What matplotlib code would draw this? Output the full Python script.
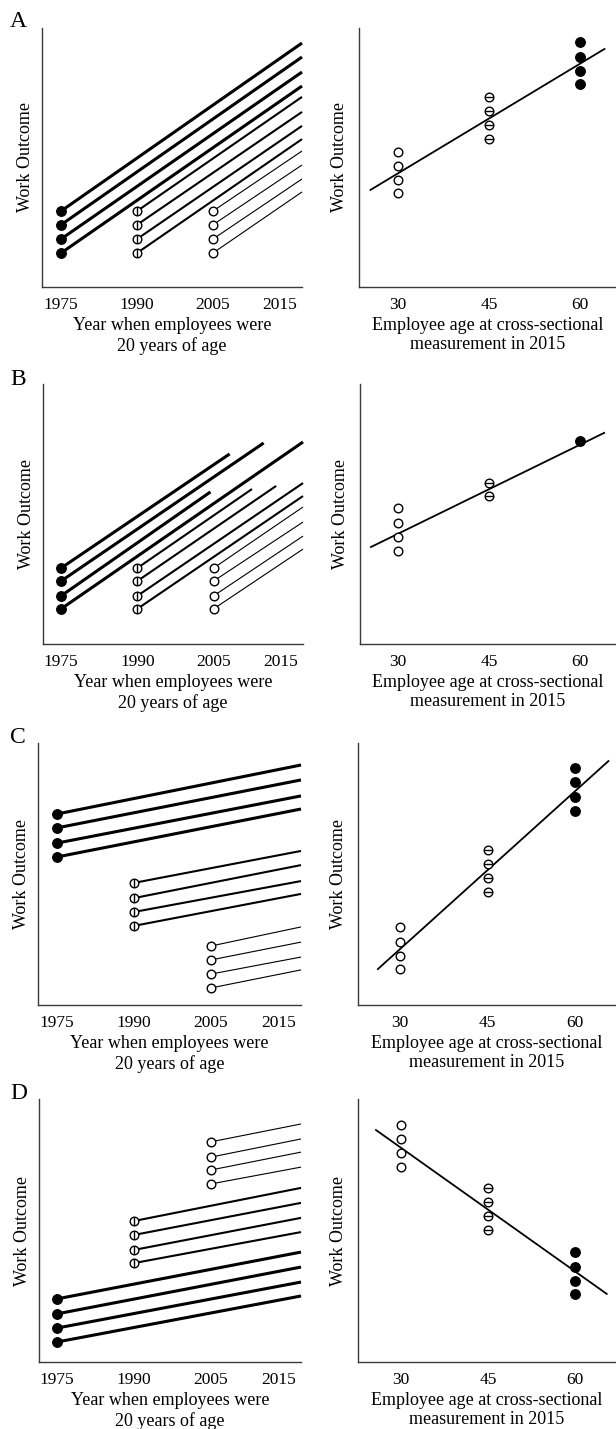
import numpy as np
import matplotlib
matplotlib.use('Agg')
import matplotlib.pyplot as plt
from matplotlib.transforms import ScaledTranslation

plt.rcParams['font.family'] = ['Liberation Serif', 'DejaVu Serif']

# ---- data (Work Outcome in arbitrary units, 0-100) ----
cohort_years = [1975, 1990, 2005]
year_ticks = [1975, 1990, 2005, 2015]
age_ticks = [30, 45, 60]

# A
a_start_1975 = [29.3, 24.0, 18.5, 13.1]
a_start_1990 = [29.3, 24.0, 18.5, 13.1]
a_start_2005 = [29.3, 24.0, 18.5, 13.1]
a_end_1975 = [94.2, 88.8, 83.0, 77.6]
a_end_1990 = [73.4, 67.6, 62.2, 57.1]
a_end_2005 = [52.5, 47.1, 41.7, 36.7]
a_stop_1975 = [2015, 2015, 2015, 2015]
a_stop_1990 = [2015, 2015, 2015, 2015]
a_stop_2005 = [2015, 2015, 2015, 2015]
a_age30 = [52.1, 46.7, 41.3, 36.3]
a_age45 = [73.4, 68.0, 62.5, 57.1]
a_age60 = [94.6, 88.8, 83.4, 78.4]
a_fit_age = [25.5, 64.0]
a_fit_y = [37.5, 91.9]

# B
b_start_1975 = [29.2, 24.2, 18.5, 13.5]
b_start_1990 = [29.2, 24.2, 18.5, 13.5]
b_start_2005 = [29.2, 24.2, 18.5, 13.5]
b_end_1975 = [73.1, 77.3, 58.5, 77.7]
b_end_1990 = [59.6, 60.8, 61.9, 56.9]
b_end_2005 = [52.7, 46.9, 41.5, 36.5]
b_stop_1975 = [2006.8, 2010.6, 2004.4, 2015]
b_stop_1990 = [2009.3, 2012.0, 2015, 2015]
b_stop_2005 = [2015, 2015, 2015, 2015]
b_age30 = [52.3, 46.5, 41.2, 35.8]
b_age45 = [61.9, 56.9]
b_age60 = [78.1]
b_fit_age = [25.5, 63.95]
b_fit_y = [37.3, 81.2]

# C
c_start_1975 = [72.9, 67.6, 61.8, 56.5]
c_start_1990 = [46.6, 40.8, 35.5, 30.2]
c_start_2005 = [22.5, 17.2, 11.8, 6.5]
c_end_1975 = [91.6, 85.9, 79.8, 74.8]
c_end_1990 = [58.8, 53.4, 47.3, 42.4]
c_end_2005 = [29.8, 24.0, 18.3, 13.4]
c_stop_1975 = [2015, 2015, 2015, 2015]
c_stop_1990 = [2015, 2015, 2015, 2015]
c_stop_2005 = [2015, 2015, 2015, 2015]
c_age30 = [29.8, 24.0, 18.7, 13.7]
c_age45 = [59.2, 53.8, 48.5, 43.1]
c_age60 = [90.5, 85.1, 79.4, 74.0]
c_fit_age = [26.2, 65.7]
c_fit_y = [13.7, 93.1]

# D
d_start_1975 = [24.0, 18.3, 12.9, 7.6]
d_start_1990 = [53.6, 48.3, 42.6, 37.6]
d_start_2005 = [83.7, 77.9, 73.0, 67.7]
d_end_1975 = [41.8, 36.1, 30.4, 25.1]
d_end_1990 = [66.2, 60.5, 54.8, 49.4]
d_end_2005 = [90.5, 84.8, 79.8, 74.1]
d_stop_1975 = [2015, 2015, 2015, 2015]
d_stop_1990 = [2015, 2015, 2015, 2015]
d_stop_2005 = [2015, 2015, 2015, 2015]
d_age30 = [90.1, 84.8, 79.5, 74.1]
d_age45 = [66.2, 60.8, 55.5, 50.2]
d_age60 = [41.8, 36.1, 30.8, 25.9]
d_fit_age = [25.7, 65.5]
d_fit_y = [88.2, 25.9]

panels = [
    ('A', [a_start_1975, a_start_1990, a_start_2005], [a_end_1975, a_end_1990, a_end_2005],
     [a_stop_1975, a_stop_1990, a_stop_2005], a_age30, a_age45, a_age60, a_fit_age, a_fit_y),
    ('B', [b_start_1975, b_start_1990, b_start_2005], [b_end_1975, b_end_1990, b_end_2005],
     [b_stop_1975, b_stop_1990, b_stop_2005], b_age30, b_age45, b_age60, b_fit_age, b_fit_y),
    ('C', [c_start_1975, c_start_1990, c_start_2005], [c_end_1975, c_end_1990, c_end_2005],
     [c_stop_1975, c_stop_1990, c_stop_2005], c_age30, c_age45, c_age60, c_fit_age, c_fit_y),
    ('D', [d_start_1975, d_start_1990, d_start_2005], [d_end_1975, d_end_1990, d_end_2005],
     [d_stop_1975, d_stop_1990, d_stop_2005], d_age30, d_age45, d_age60, d_fit_age, d_fit_y),
]

# ---- layout in pixels: top, bottom, left-axes x0, x1, right-axes x0, year xmin, age xmin, age xmax
W, H = 616, 1429
layout = [
    (28, 287, 42, 302, 359, 1971.25, 23.6, 65.9),
    (384, 644, 43, 303, 360, 1971.45, 23.7, 65.9),
    (743, 1005, 38, 301, 358, 1971.3, 22.8, 67.0),
    (1099, 1362, 39, 301, 358, 1971.5, 22.6, 67.1),
]
letter_base = [27, 385, 743, 1099]

# the schematic time axis is not to scale after 2005
knot_year = [1900, 1975, 1990, 2005, 2015, 2100]
knot_pos = [-75, 0, 15, 30, 47.6, 47.6 + 85 * 1.76]
fwd = lambda x: np.interp(x, knot_year, knot_pos)
inv = lambda p: np.interp(p, knot_pos, knot_year)

line_w = [2.2, 1.5, 0.8]
spine_c = '#3a3a3a'

fig = plt.figure(figsize=(W / 100, H / 100), dpi=100)


def marks(ax, x, y, kind, bar):
    xs = [x] * len(y)
    if kind == 0:
        ax.plot(xs, y, 'o', ms=7, mfc='black', mec='black', mew=0.8, ls='none', zorder=4, clip_on=False)
    else:
        ax.plot(xs, y, 'o', ms=6.2, mfc='white', mec='black', mew=1.0, ls='none', zorder=4, clip_on=False)
        if kind == 1:
            ax.plot(xs, y, bar, ms=6.2, mec='black', mew=1.0, ls='none', zorder=5, clip_on=False)


def style(ax):
    for s in ['top', 'right']:
        ax.spines[s].set_visible(False)
    for s in ['left', 'bottom']:
        ax.spines[s].set_color(spine_c)
        ax.spines[s].set_linewidth(1.0)
    ax.set_yticks([])
    ax.set_ylim(0, 100)
    ax.tick_params(axis='x', length=0, pad=7, labelsize=12.5)
    ax.set_ylabel('Work Outcome', fontsize=13, labelpad=6)


for (letter, starts, ends, stops, age30, age45, age60, fit_age, fit_y), lay, lb in zip(panels, layout, letter_base):
    top, bot, lx0, lx1, rx0, ymin_year, amin, amax = lay
    h = (bot - top) / H
    y0 = 1 - bot / H

    # left: cohort trajectories
    ax = fig.add_axes([lx0 / W, y0, (lx1 - lx0) / W, h])
    ax.set_xscale('function', functions=(fwd, inv))
    for i, yr in enumerate(cohort_years):
        for s, e, st in zip(starts[i], ends[i], stops[i]):
            ax.plot([yr, st], [s, e], color='black', lw=line_w[i], solid_capstyle='butt',
                    zorder=2, clip_on=False)
        marks(ax, yr, starts[i], i, '|')
    ax.set_xlim(ymin_year, 2015)
    style(ax)
    ax.set_xticks(year_ticks)
    ax.set_xticklabels([str(t) for t in year_ticks])
    ax.set_xlabel('Year when employees were\n20 years of age', fontsize=13, labelpad=3)
    last = ax.get_xticklabels()[-1]
    last.set_ha('right')
    last.set_transform(last.get_transform() + ScaledTranslation(-0.05, 0, fig.dpi_scale_trans))

    # right: cross-sectional snapshot
    ax2 = fig.add_axes([rx0 / W, y0, (W - rx0) / W, h])
    ax2.plot(fit_age, fit_y, color='black', lw=1.3, zorder=2)
    marks(ax2, 30, age30, 2, '_')
    marks(ax2, 45, age45, 1, '_')
    marks(ax2, 60, age60, 0, '_')
    ax2.set_xlim(amin, amax)
    style(ax2)
    ax2.set_ylabel('Work Outcome', fontsize=13, labelpad=8)
    ax2.set_xticks(age_ticks)
    ax2.set_xticklabels([str(t) for t in age_ticks])
    ax2.set_xlabel('Employee age at cross-sectional\nmeasurement in 2015', fontsize=13, labelpad=3)

    fig.text(10 / W, 1 - lb / H, letter, fontsize=17, va='baseline', ha='left')

fig.savefig('out.png', dpi=100)
